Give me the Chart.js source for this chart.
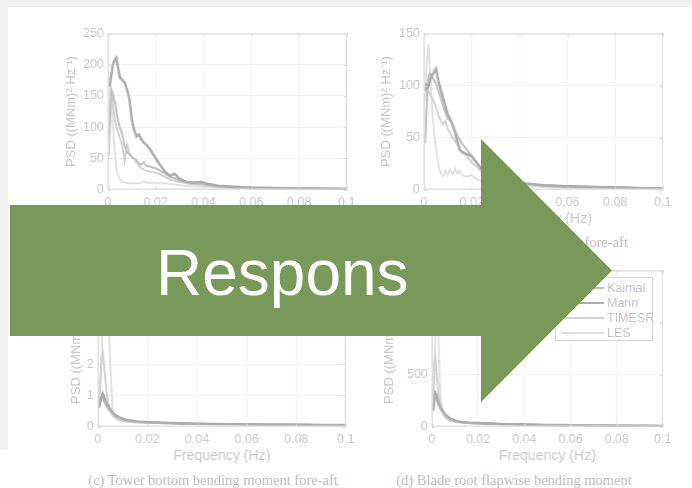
<!DOCTYPE html>
<html>
<head>
<meta charset="utf-8">
<script src="https://cdn.jsdelivr.net/npm/chart.js@4.4.1/dist/chart.umd.min.js"></script>
<style>
    html, body { margin: 0; padding: 0; }
    body {
        width: 692px; height: 488px; position: relative; overflow: hidden;
        background: #fff; font-family: "Liberation Sans", Arial, sans-serif;
    }
    .strip-top { position: absolute; left: 0; top: 0; width: 692px; height: 7px; background: #f0f0f0; }
    .strip-left { position: absolute; left: 0; top: 0; width: 8px; height: 450px; background: #f0f0f0; }
    .plot { position: absolute; left: 0; top: 0; filter: blur(0.35px); }
    .caption {
        position: absolute; white-space: nowrap; transform: translate(-50%, -50%);
        font-family: "Liberation Serif", "DejaVu Serif", serif; font-size: 14.5px; color: #bdbdbd;
    }
    .legend {
        position: absolute; background: #fff; border: 1px solid #d4d4d4; box-sizing: border-box;
        font-size: 12.5px; color: #c4c4c4; filter: blur(0.35px);
    }
    .legend .row { position: absolute; left: 0; height: 14px; line-height: 14px; }
    .legend .ln { position: absolute; left: 5px; width: 43px; top: 6px; }
    .legend .tx { position: absolute; left: 51px; top: 0; }
    svg.arrow { position: absolute; left: 0; top: 0; z-index: 10; }
</style>
</head>
<body>
<div class="strip-top"></div>
<div class="strip-left"></div>

<div class="plot" id="wrapA"><canvas id="chartA" width="320" height="240"></canvas></div>
<div class="plot" id="wrapB"><canvas id="chartB" width="320" height="240"></canvas></div>
<div class="plot" id="wrapC"><canvas id="chartC" width="320" height="240"></canvas></div>
<div class="plot" id="wrapD"><canvas id="chartD" width="320" height="240"></canvas></div>

<div class="caption" style="left:514px;top:242px">(b) Tower top bending moment fore-aft</div>
<div class="caption" style="left:213px;top:480px">(c) Tower bottom bending moment fore-aft</div>
<div class="caption" style="left:514px;top:480px">(d) Blade root flapwise bending moment</div>

<div class="legend" id="legend" style="left:555px;top:277px;width:98px;height:64px"></div>

<svg class="arrow" width="692" height="488">
    <polygon points="10,205 481,205 481,139 612,270.5 481,402 481,336 10,336" fill="#78995a"/>
    <text x="156" y="295" fill="#ffffff" font-family="Liberation Sans, Arial, sans-serif" font-size="64">Respons</text>
</svg>

<script>
const freq = [0.0005, 0.001, 0.0015, 0.002, 0.0025, 0.003, 0.0035, 0.004, 0.005, 0.006,
    0.007, 0.008, 0.009, 0.010, 0.011, 0.012, 0.013, 0.014, 0.015, 0.016,
    0.018, 0.020, 0.022, 0.024, 0.026, 0.028, 0.030, 0.033, 0.036, 0.039,
    0.042, 0.046, 0.050, 0.055, 0.060, 0.070, 0.080, 0.090, 0.100];
const xTicks = [0, 0.02, 0.04, 0.06, 0.08, 0.1];

const seriesNames = ['Kaimal', 'Mann', 'TIMESR', 'LES'];
const lineColors = ['#c0c0c0', '#adadad', '#d2d2d2', '#e0e0e0'];
const lineWidths = [2, 2.6, 2, 2];
const drawOrder = [1, 0, 2, 3];

// (a)
const aTicks = [0, 50, 100, 150, 200, 250];
const aKaimal = [88, 130, 160, 155, 145, 140, 128, 115, 100, 88,
    70, 60, 56, 52, 50, 47, 42, 40, 44, 38,
    36, 34, 30, 25, 20, 18, 14, 12, 10, 9,
    7, 5, 4, 3, 2.5, 2, 1.5, 1.2, 1];
const aMann = [165, 172, 185, 198, 205, 208, 211, 200, 180, 175,
    172, 160, 145, 112, 95, 85, 88, 80, 75, 72,
    62, 50, 38, 28, 22, 25, 17, 12, 11, 12,
    9, 6, 5, 4, 3, 2.5, 2, 1.5, 1.2];
const aTimesr = [55, 120, 150, 140, 125, 110, 100, 95, 82, 70,
    45, 72, 60, 52, 48, 42, 38, 34, 32, 30,
    28, 27, 24, 20, 16, 14, 12, 10, 8, 8,
    6, 5, 4, 3, 2.5, 2, 1.5, 1.2, 1];
const aLes = [120, 170, 150, 110, 80, 55, 35, 25, 16, 12,
    11, 10, 10, 10, 10, 10, 10, 11, 13, 11,
    11, 11, 10, 10, 9, 8, 7, 6, 5, 5,
    4, 3, 3, 2.5, 2, 1.5, 1.2, 1, 0.8];

// (b)
const bTicks = [0, 50, 100, 150];
const bKaimal = [45, 70, 95, 110, 112, 110, 108, 106, 102, 95,
    88, 80, 74, 68, 66, 62, 56, 52, 48, 44,
    38, 32, 26, 20, 16, 13, 10, 8, 7, 6,
    5, 4.5, 4, 3.5, 3, 2.5, 2, 1.5, 1.2];
const bMann = [95, 100, 98, 100, 105, 108, 110, 112, 116, 105,
    96, 88, 80, 72, 68, 62, 55, 46, 38, 36,
    34, 32, 26, 20, 16, 13, 11, 9, 8, 7,
    6, 5, 4, 3.5, 3, 2.5, 2, 1.5, 1.2];
const bTimesr = [90, 95, 96, 94, 92, 90, 88, 85, 80, 72,
    66, 62, 66, 58, 54, 50, 46, 44, 40, 36,
    32, 26, 22, 17, 14, 12, 10, 8, 7, 6,
    5, 4.5, 4, 3.5, 3, 2.5, 2, 1.5, 1.2];
const bLes = [85, 110, 130, 140, 118, 95, 75, 60, 40, 25,
    15, 13, 18, 14, 19, 15, 20, 15, 18, 14,
    12, 14, 10, 8, 7, 6, 5, 4.5, 4, 3.5,
    3, 3, 2.5, 2, 2, 1.5, 1.2, 1, 0.8];

// (c)
const cTicks = [0, 1, 2, 3, 4, 5];
const cKaimal = [0.7, 0.9, 1.0, 0.92, 0.82, 0.72, 0.64, 0.58, 0.48, 0.4,
    0.34, 0.3, 0.26, 0.23, 0.21, 0.19, 0.18, 0.17, 0.16, 0.15,
    0.14, 0.13, 0.13, 0.12, 0.12, 0.11, 0.11, 0.1, 0.1, 0.09,
    0.09, 0.08, 0.08, 0.07, 0.07, 0.06, 0.06, 0.05, 0.05];
const cMann = [0.6, 0.8, 0.95, 1.05, 0.95, 0.85, 0.75, 0.68, 0.55, 0.45,
    0.38, 0.32, 0.28, 0.25, 0.22, 0.2, 0.19, 0.18, 0.17, 0.16,
    0.15, 0.14, 0.13, 0.13, 0.12, 0.12, 0.11, 0.1, 0.1, 0.09,
    0.09, 0.08, 0.08, 0.07, 0.07, 0.06, 0.06, 0.05, 0.05];
const cTimesr = [0.7, 1.5, 2.2, 2.35, 2.0, 1.5, 1.1, 0.8, 0.5, 0.35,
    0.27, 0.22, 0.19, 0.17, 0.16, 0.15, 0.14, 0.14, 0.13, 0.13,
    0.12, 0.12, 0.11, 0.11, 0.1, 0.1, 0.1, 0.09, 0.09, 0.09,
    0.08, 0.08, 0.07, 0.07, 0.06, 0.06, 0.05, 0.05, 0.04];
const cLes = [0.6, 1.2, 2.2, 3.5, 4.4, 4.6, 4.5, 4.1, 2.0, 0.45,
    0.3, 0.25, 0.2, 0.18, 0.17, 0.16, 0.15, 0.15, 0.14, 0.14,
    0.13, 0.13, 0.12, 0.12, 0.11, 0.11, 0.1, 0.1, 0.09, 0.09,
    0.08, 0.08, 0.07, 0.07, 0.06, 0.06, 0.05, 0.05, 0.04];

// (d)
const dTicks = [0, 500, 1000, 1500];
const dKaimal = [200, 260, 280, 260, 230, 200, 180, 160, 135, 110,
    92, 78, 68, 58, 52, 47, 44, 41, 39, 37,
    35, 33, 31, 30, 28, 26, 25, 23, 22, 20,
    18, 16, 15, 13, 12, 10, 8, 7, 6];
const dMann = [150, 250, 320, 300, 250, 210, 190, 170, 140, 110,
    90, 75, 65, 55, 50, 45, 42, 40, 38, 36,
    34, 32, 30, 30, 28, 26, 24, 22, 22, 20,
    18, 16, 15, 13, 12, 10, 8, 7, 6];
const dTimesr = [250, 600, 660, 520, 380, 280, 210, 160, 110, 80,
    65, 55, 50, 45, 42, 40, 38, 36, 35, 34,
    32, 30, 29, 28, 26, 25, 24, 22, 21, 19,
    17, 15, 14, 12, 11, 9, 8, 7, 6];
const dLes = [150, 400, 900, 1350, 1100, 700, 400, 220, 120, 80,
    65, 55, 48, 44, 40, 38, 36, 34, 33, 32,
    30, 29, 28, 27, 26, 24, 23, 21, 20, 18,
    16, 15, 13, 12, 11, 9, 8, 7, 6];

const textGray = '#c6c6c6';
Chart.defaults.font.family = '"Liberation Sans", Arial, sans-serif';

// MATLAB style axes box with inward ticks
const boxPlugin = {
    id: 'matlabBox',
    afterDraw(chart) {
        const { ctx, chartArea: a, scales: { x, y } } = chart;
        ctx.save();
        ctx.strokeStyle = '#d8d8d8';
        ctx.lineWidth = 1;
        ctx.strokeRect(a.left + 0.5, a.top + 0.5, a.width - 1, a.height - 1);
        ctx.beginPath();
        x.ticks.forEach((t) => {
            const px = Math.round(x.getPixelForValue(t.value)) + 0.5;
            ctx.moveTo(px, a.bottom); ctx.lineTo(px, a.bottom - 3);
            ctx.moveTo(px, a.top); ctx.lineTo(px, a.top + 3);
        });
        y.ticks.forEach((t) => {
            const py = Math.round(y.getPixelForValue(t.value)) + 0.5;
            ctx.moveTo(a.left, py); ctx.lineTo(a.left + 3, py);
            ctx.moveTo(a.right, py); ctx.lineTo(a.right - 3, py);
        });
        ctx.stroke();
        ctx.restore();
    },
};

function fitTo(chart, wrap, box) {
    const ca = chart.chartArea;
    const w = chart.width + (box.right - box.left) - (ca.right - ca.left);
    const h = chart.height + (box.bottom - box.top) - (ca.bottom - ca.top);
    chart.resize(w, h);
    const ca2 = chart.chartArea;
    wrap.style.left = (box.left - ca2.left) + 'px';
    wrap.style.top = (box.top - ca2.top) + 'px';
}

function makePlot(id, box, yTicks, series) {
    const canvas = document.getElementById('chart' + id);
    const wrap = document.getElementById('wrap' + id);
    const yWidth = box.left - (box.titleX - 7.8);
    const chart = new Chart(canvas, {
        type: 'line',
        data: {
            datasets: series.map((vals, i) => ({
                label: seriesNames[i],
                data: freq.map((f, k) => ({ x: f, y: vals[k] })),
                borderColor: lineColors[i],
                borderWidth: lineWidths[i],
                pointRadius: 0,
                tension: 0,
                fill: false,
                order: drawOrder[i],
            })),
        },
        options: {
            responsive: false,
            maintainAspectRatio: false,
            animation: false,
            events: [],
            layout: { padding: 0 },
            plugins: { legend: { display: false }, tooltip: { enabled: false } },
            scales: {
                x: {
                    type: 'linear', min: 0, max: 0.1,
                    afterBuildTicks: (s) => { s.ticks = xTicks.map((v) => ({ value: v })); },
                    afterFit: (s) => { s.height = 38; },
                    grid: { color: '#f1f1f1', drawTicks: false },
                    border: { display: false },
                    ticks: {
                        padding: 6, color: textGray, font: { size: 12.5 }, maxRotation: 0, autoSkip: false,
                        callback: (v) => String(+Number(v).toFixed(3)),
                    },
                    title: { display: true, text: 'Frequency (Hz)', color: textGray, font: { size: 14 }, padding: 0 },
                },
                y: {
                    type: 'linear', min: yTicks[0], max: yTicks[yTicks.length - 1],
                    afterBuildTicks: (s) => { s.ticks = yTicks.map((v) => ({ value: v })); },
                    afterFit: (s) => { s.width = yWidth; },
                    grid: { color: '#f1f1f1', drawTicks: false },
                    border: { display: false },
                    ticks: { padding: 4, color: textGray, font: { size: 12.5 }, autoSkip: false },
                    title: { display: true, text: 'PSD ((MNm)² Hz⁻¹)', color: textGray, font: { size: 13 }, padding: 0 },
                },
            },
        },
        plugins: [boxPlugin],
    });
    fitTo(chart, wrap, box);
    return chart;
}

makePlot('A', { left: 108, top: 33, right: 346, bottom: 189, titleX: 72 }, aTicks, [aKaimal, aMann, aTimesr, aLes]);
makePlot('B', { left: 424, top: 33, right: 662, bottom: 189, titleX: 387 }, bTicks, [bKaimal, bMann, bTimesr, bLes]);
makePlot('C', { left: 98, top: 270, right: 345, bottom: 426, titleX: 77 }, cTicks, [cKaimal, cMann, cTimesr, cLes]);
makePlot('D', { left: 432, top: 270, right: 662, bottom: 426, titleX: 390 }, dTicks, [dKaimal, dMann, dTimesr, dLes]);

// legend inside panel (d)
const legend = document.getElementById('legend');
seriesNames.forEach((name, i) => {
    const row = document.createElement('div');
    row.className = 'row';
    row.style.top = (3 + i * 15) + 'px';
    row.style.width = '96px';
    row.innerHTML = `<span class="ln" style="border-top:${lineWidths[i]}px solid ${lineColors[i]}"></span><span class="tx">${name}</span>`;
    legend.appendChild(row);
});
</script>
</body>
</html>
